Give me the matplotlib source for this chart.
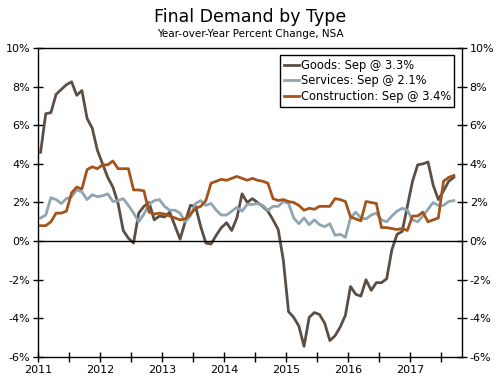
import matplotlib
matplotlib.use('Agg')
import matplotlib.pyplot as plt
import numpy as np

# monthly yoy % change, Jan 2011 .. Sep 2017
goods = [4.6, 6.6, 6.65, 7.6, 7.85, 8.1, 8.25, 7.55, 7.8, 6.35, 5.85, 4.7,
         4.0, 3.3, 2.8, 1.95, 0.55, 0.15, -0.1, 1.45, 1.8, 2.0, 1.1, 1.3,
         1.25, 1.5, 0.8, 0.1, 1.0, 1.85, 1.8, 0.75, -0.1, -0.15, 0.3, 0.7,
         0.95, 0.55, 1.2, 2.45, 2.0, 2.2, 2.0, 1.8, 1.55, 1.1, 0.6, -1.0,
         -3.65, -3.95, -4.4, -5.45, -3.95, -3.7, -3.8, -4.25, -5.15, -4.9, -4.45, -3.85,
         -2.35, -2.75, -2.85, -2.0, -2.55, -2.15, -2.15, -1.95, -0.45, 0.35, 0.5, 1.8,
         3.1, 3.95, 4.0, 4.1, 2.9, 2.15, 2.6, 3.1, 3.3]
services = [1.2, 1.35, 2.25, 2.15, 1.95, 2.2, 2.3, 2.65, 2.55, 2.15, 2.4, 2.3,
            2.35, 2.45, 2.05, 2.1, 2.2, 1.85, 1.45, 1.0, 1.4, 1.9, 2.1, 2.15,
            1.8, 1.6, 1.6, 1.45, 1.0, 1.3, 1.95, 2.1, 1.85, 1.95, 1.6, 1.35,
            1.35, 1.55, 1.75, 1.55, 1.9, 1.9, 1.95, 1.85, 1.6, 1.8, 1.8, 2.05,
            1.95, 1.2, 0.9, 1.2, 0.85, 1.1, 0.85, 0.75, 0.9, 0.3, 0.35, 0.2,
            1.2, 1.5, 1.2, 1.15, 1.35, 1.45, 1.1, 1.0, 1.3, 1.55, 1.7, 1.6,
            1.1, 1.0, 1.3, 1.65, 2.0, 1.85, 1.85, 2.05, 2.1]
construction = [0.8, 0.8, 1.0, 1.45, 1.45, 1.55, 2.5, 2.8, 2.7, 3.7, 3.85, 3.75,
                3.95, 3.95, 4.15, 3.75, 3.75, 3.75, 2.65, 2.65, 2.6, 1.5, 1.4, 1.45,
                1.4, 1.3, 1.2, 1.1, 1.15, 1.4, 1.7, 1.8, 2.1, 3.0, 3.1, 3.2,
                3.15, 3.25, 3.35, 3.25, 3.15, 3.25, 3.15, 3.1, 3.0, 2.2, 2.1, 2.15,
                2.05, 2.0, 1.85, 1.6, 1.7, 1.65, 1.8, 1.8, 1.8, 2.2, 2.15, 2.05,
                1.25, 1.15, 1.05, 2.05, 2.0, 1.95, 0.7, 0.7, 0.65, 0.6, 0.65, 0.55,
                1.3, 1.3, 1.5, 1.0, 1.1, 1.2, 3.1, 3.3, 3.4]
labels = ['Goods: Sep @ 3.3%', 'Services: Sep @ 2.1%', 'Construction: Sep @ 3.4%']
colors = ['#5b4e45', '#8fa6b2', '#a4541b']
years = [2011, 2012, 2013, 2014, 2015, 2016, 2017]

t = 2011 + (np.arange(len(goods)) + 0.5) / 12.0

fig = plt.figure(figsize=(5, 3.78), dpi=100)
ax = fig.add_axes([0.076, 0.0556, 0.848, 0.8174])

for s, c, l in zip([goods, services, construction], colors, labels):
    ax.plot(t, s, color=c, lw=2, label=l)
ax.axhline(0, color='black', lw=1)

ax.set_xlim(2011, 2017.84)
ax.set_ylim(-6, 10)
ax.set_xticks(years)
ax.set_xticklabels([str(y) for y in years])
ax.set_xticks([y + 0.5 for y in years], minor=True)
ax.set_yticks(np.arange(-6, 11, 2))
ax.set_yticklabels(['%d%%' % v for v in np.arange(-6, 11, 2)])
ax.tick_params(which='both', direction='inout', length=7, width=1, labelsize=8,
               right=True, labelright=True, pad=2)
for sp in ax.spines.values():
    sp.set_linewidth(1)

leg = ax.legend(loc='upper right', bbox_to_anchor=(0.982, 0.977), fontsize=8.3,
                fancybox=False, edgecolor='black', framealpha=1,
                handlelength=1.3, handletextpad=0.15, labelspacing=0.25,
                borderpad=0.3, borderaxespad=0)
leg.get_frame().set_linewidth(1)

fig.text(0.5, 0.955, 'Final Demand by Type', ha='center', va='center', fontsize=12.5)
fig.text(0.5, 0.91, 'Year-over-Year Percent Change, NSA', ha='center', va='center', fontsize=7.5)

fig.savefig('out.png', dpi=100)
